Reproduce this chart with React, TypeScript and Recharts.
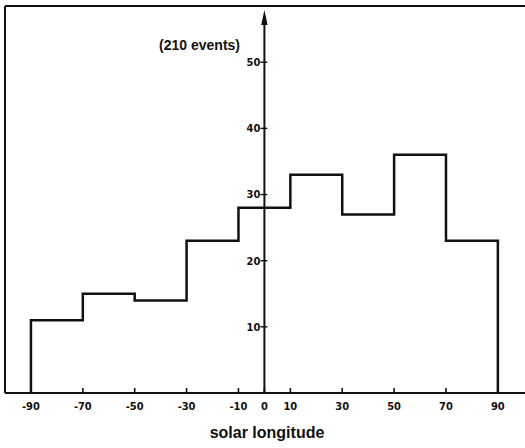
import React from 'react';
import {
  ComposedChart,
  Line,
  XAxis,
  YAxis,
  ReferenceLine,
  ReferenceDot,
} from 'recharts';

const binEdges = [-90, -70, -50, -30, -10, 10, 30, 50, 70, 90];
const counts = [11, 15, 14, 23, 28, 33, 27, 36, 23];
const xTicks = [-90, -70, -50, -30, -10, 0, 10, 30, 50, 70, 90];
const yTicks = [10, 20, 30, 40, 50];
const titleText = '(210 events)';
const xLabelText = 'solar longitude';
const xDomain: [number, number] = [-100, 102];
const yDomain: [number, number] = [0, 58.5];
const yAxisTop = 57.9;
const titlePos = { x: -25, y: 52.6 };

const data = [
  { x: binEdges[0], y: 0 },
  ...counts.map((c, i) => ({ x: binEdges[i], y: c })),
  { x: binEdges[binEdges.length - 1], y: counts[counts.length - 1] },
  { x: binEdges[binEdges.length - 1], y: 0 },
];

const tickFont = "'DejaVu Sans Condensed', 'DejaVu Sans', sans-serif";
const INK = '#111';

const XTick = (props: any) => {
  const { x, y, payload } = props;
  return (
    <g>
      <line x1={x} y1={y} x2={x} y2={y - 5} stroke={INK} strokeWidth={1.6} />
      <text
        x={x}
        y={y + 17}
        textAnchor="middle"
        fontFamily={tickFont}
        fontWeight="bold"
        fontSize={11}
        fill={INK}
      >
        {payload.value}
      </text>
    </g>
  );
};

const makeYTick = (v: number) => (p: any) => (
  <g>
    <line x1={p.cx - 4} y1={p.cy} x2={p.cx + 3} y2={p.cy} stroke={INK} strokeWidth={1.4} />
    <text
      x={p.cx - 4}
      y={p.cy}
      dy="0.35em"
      textAnchor="end"
      fontFamily={tickFont}
      fontWeight="bold"
      fontSize={11}
      fill={INK}
    >
      {v}
    </text>
  </g>
);

const TitleShape = (p: any) => (
  <text
    x={p.cx}
    y={p.cy}
    dy="0.35em"
    textAnchor="middle"
    fontFamily="'Liberation Sans', Arial, sans-serif"
    fontWeight="bold"
    fontSize={14}
    fill={INK}
  >
    {titleText}
  </text>
);

const ArrowAxis = (p: any) => {
  const top = Math.min(p.y1, p.y2);
  const bottom = Math.max(p.y1, p.y2);
  const x = p.x1;
  return (
    <g>
      <line x1={x} y1={bottom} x2={x} y2={top + 6} stroke={INK} strokeWidth={2} />
      <polygon
        points={`${x},${top} ${x - 3.2},${top + 15} ${x + 3.2},${top + 15}`}
        fill={INK}
      />
    </g>
  );
};

export default function App() {
  return (
    <div
      style={{
        position: 'absolute',
        left: 0,
        top: 0,
        width: 525,
        height: 448,
        overflow: 'hidden',
        background: '#fff',
      }}
    >
      <ComposedChart
        width={530}
        height={448}
        data={data}
        margin={{ top: 6, right: 1, left: 5, bottom: 0 }}
      >
        <XAxis
          dataKey="x"
          type="number"
          domain={xDomain}
          ticks={xTicks}
          allowDataOverflow
          interval={0}
          tickSize={0}
          tickMargin={0}
          tick={<XTick />}
          axisLine={{ stroke: INK, strokeWidth: 2 }}
          tickLine={false}
          height={55}
          label={{
            value: xLabelText,
            position: 'insideBottom',
            offset: 10,
            fill: INK,
            fontSize: 16,
            fontWeight: 'bold',
            fontFamily: "'Liberation Sans', Arial, sans-serif",
          }}
        />
        <YAxis hide type="number" domain={yDomain} allowDataOverflow />
        <ReferenceLine x={xDomain[0]} stroke={INK} strokeWidth={2} />
        <ReferenceLine y={yDomain[1]} stroke={INK} strokeWidth={2} />
        <Line
          type="stepAfter"
          dataKey="y"
          stroke={INK}
          strokeWidth={2.5}
          dot={false}
          isAnimationActive={false}
        />
        <ReferenceLine
          segment={[
            { x: 0, y: 0 },
            { x: 0, y: yAxisTop },
          ]}
          stroke={INK}
          shape={ArrowAxis}
        />
        {yTicks.map((v) => (
          <ReferenceDot key={v} x={0} y={v} r={0} shape={makeYTick(v)} />
        ))}
        <ReferenceDot x={titlePos.x} y={titlePos.y} r={0} shape={TitleShape} />
      </ComposedChart>
    </div>
  );
}
